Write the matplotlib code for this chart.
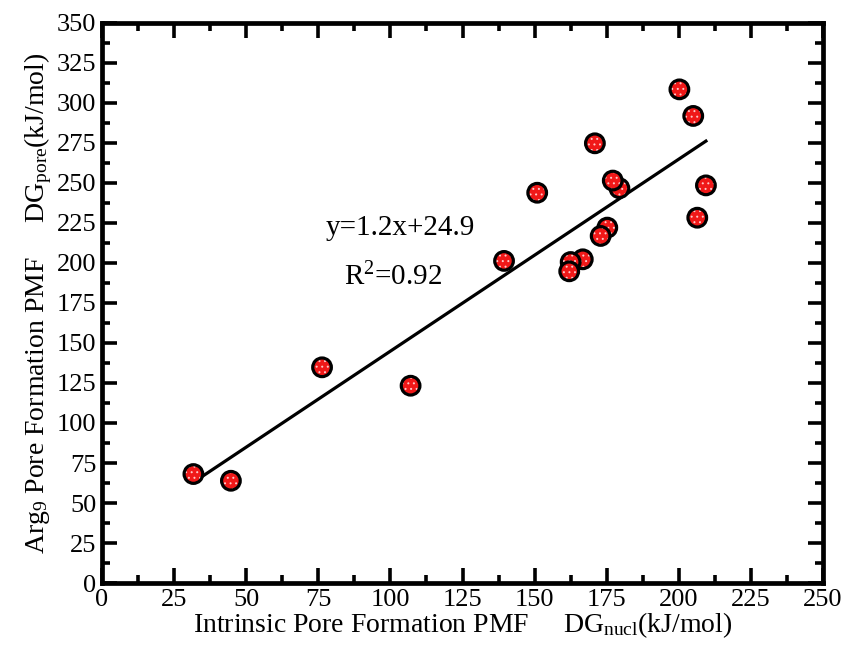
import matplotlib
matplotlib.use("Agg")
import matplotlib.pyplot as plt
import numpy as np

plt.rcParams['font.family'] = ['Liberation Serif', 'DejaVu Serif']
plt.rcParams['mathtext.fontset'] = 'custom'
plt.rcParams['mathtext.rm'] = 'Liberation Serif'
plt.rcParams['mathtext.it'] = 'Liberation Serif:italic'
plt.rcParams['hatch.linewidth'] = 0.7

# Intrinsic pore formation free energy (kJ/mol)
dg_nucl = [31.7, 44.7, 76.3, 107.0, 139.4, 150.9, 166.7, 162.5, 162.0, 170.9,
           175.2, 172.9, 179.4, 177.1, 200.2, 205.0, 206.4, 209.4]
# Arg9 pore formation free energy (kJ/mol)
dg_pore = [68.1, 63.9, 134.8, 123.3, 201.3, 243.9, 202.3, 200.6, 194.8, 274.8,
           222.1, 216.9, 246.7, 251.5, 308.5, 291.9, 228.3, 248.5]

slope = 1.2
intercept = 24.9
r_squared = 0.92

x_ticks = list(range(0, 251, 25))
y_ticks = list(range(0, 351, 25))

fig = plt.figure(figsize=(8.47, 6.47), dpi=100)
ax = fig.add_axes([0.1204, 0.0989, 0.8513, 0.8656])

# fit line across the data range
xf = np.array([min(dg_nucl) + 1.0, max(dg_nucl)])
ax.plot(xf, slope * xf + intercept, color='black', lw=2.3, zorder=2)

# each marker: red stippled fill, then its black outline, stacked in order
for i, (xv, yv) in enumerate(zip(dg_nucl, dg_pore)):
    z = 3 + 2 * i
    ax.scatter([xv], [yv], s=180, facecolor='#f01818', edgecolor='#ffc8c8',
               hatch='...', linewidths=0, zorder=z)
    ax.scatter([xv], [yv], s=180, facecolor='none', edgecolor='black',
               linewidths=2.3, zorder=z + 1)

ax.text(103.3, 222, 'y=1.2x+24.9', fontsize=21, ha='center', va='center')
ax.text(101, 191, 'R$^{2}$=0.92', fontsize=21, ha='center', va='center')

ax.set_xlim(0, 250)
ax.set_ylim(0, 350)
ax.set_xticks(x_ticks)
ax.set_yticks(y_ticks)
ax.set_xticks(np.arange(12.5, 250, 25), minor=True)
ax.set_yticks(np.arange(12.5, 350, 25), minor=True)
ax.tick_params(which='both', direction='in', top=True, right=True,
               labelsize=19, width=2.6, pad=4)
ax.tick_params(which='major', length=11)
ax.tick_params(which='minor', length=5.5)
for sp in ax.spines.values():
    sp.set_linewidth(3.4)

ax.set_xlabel('Intrinsic Pore Formation PMF     DG$_{\\mathrm{nucl}}$(kJ/mol)',
              fontsize=20, labelpad=0)
ax.set_ylabel('Arg$_{9}$ Pore Formation PMF     DG$_{\\mathrm{pore}}$(kJ/mol)',
              fontsize=20, labelpad=2)

fig.savefig('out.png', dpi=100)
